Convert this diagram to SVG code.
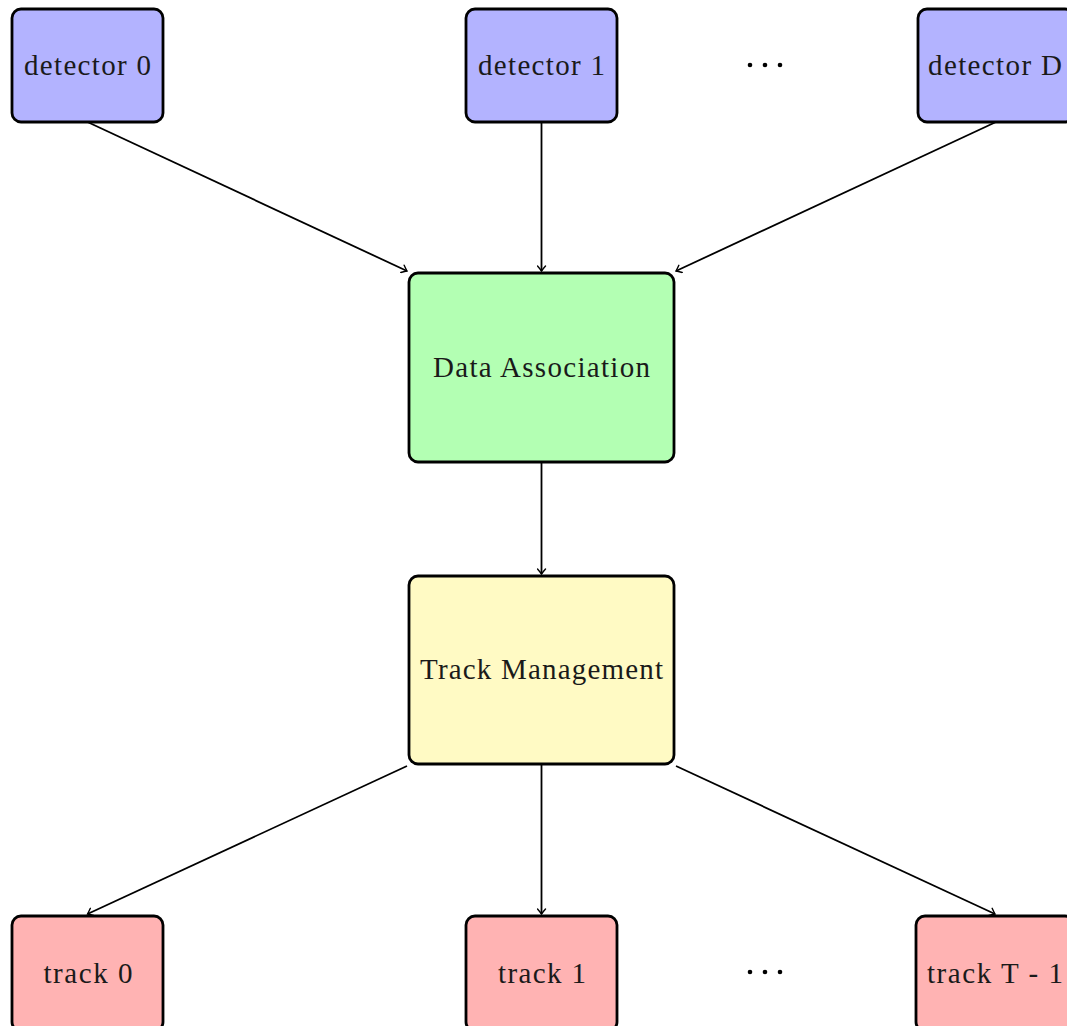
<svg xmlns="http://www.w3.org/2000/svg" width="1067" height="1026" viewBox="0 0 1067 1026">
<style>
.box{stroke:#000;stroke-width:2.8}
.det{fill:#B3B3FF}
.da{fill:#B3FFB3}
.tm{fill:#FFFAC4}
.trk{fill:#FFB3B3}
text{font-family:"Liberation Serif","Times New Roman",serif;font-size:29px;fill:#1a1a1a;text-anchor:middle}
.edge{stroke:#000;stroke-width:1.8;fill:none;marker-end:url(#arr)}
</style>
<defs>
<marker id="arr" viewBox="-6 -5 8 10" refX="0" refY="0" markerWidth="8" markerHeight="10" markerUnits="userSpaceOnUse" orient="auto">
<path d="M-5,-4 Q-1.5,-1 0,0 Q-1.5,1 -5,4" fill="none" stroke="#000" stroke-width="1.4" stroke-linecap="round"/>
</marker>
</defs>
<rect width="1067" height="1026" fill="#fff"/>
<g id="connectors">
<line class="edge" x1="87.5" y1="122" x2="407" y2="271"/>
<line class="edge" x1="541.5" y1="122" x2="541.5" y2="271"/>
<line class="edge" x1="996" y1="122" x2="676" y2="271"/>
<line class="edge" x1="541.5" y1="462" x2="541.5" y2="574"/>
<line class="edge" x1="407" y1="766" x2="87.5" y2="914"/>
<line class="edge" x1="541.5" y1="764" x2="541.5" y2="914"/>
<line class="edge" x1="676" y1="766" x2="995" y2="914"/>
</g>
<g id="detector0"><rect class="box det" x="12" y="9" width="151" height="113" rx="9"/><text x="87.5" y="75" textLength="127" lengthAdjust="spacing">detector 0</text></g>
<g id="detector1"><rect class="box det" x="466" y="9" width="151" height="113" rx="9"/><text x="541.5" y="75" textLength="127" lengthAdjust="spacing">detector 1</text></g>
<g id="dots-top"><circle cx="750" cy="65" r="2.3"/><circle cx="765" cy="65" r="2.3"/><circle cx="780" cy="65" r="2.3"/></g>
<g id="detectorD"><rect class="box det" x="918" y="9" width="156" height="113" rx="9"/><text x="995" y="75" textLength="134" lengthAdjust="spacing">detector D</text></g>
<g id="dataAssociation"><rect class="box da" x="409" y="273" width="265" height="189" rx="9"/><text x="541.5" y="377" textLength="217" lengthAdjust="spacing">Data Association</text></g>
<g id="trackManagement"><rect class="box tm" x="409" y="576" width="265" height="188" rx="9"/><text x="541.5" y="679" textLength="243" lengthAdjust="spacing">Track Management</text></g>
<g id="track0"><rect class="box trk" x="12" y="916" width="151" height="115" rx="9"/><text x="88" y="983" textLength="89" lengthAdjust="spacing">track 0</text></g>
<g id="track1"><rect class="box trk" x="466" y="916" width="151" height="115" rx="9"/><text x="542" y="983" textLength="88" lengthAdjust="spacing">track 1</text></g>
<g id="dots-bottom"><circle cx="750" cy="972" r="2.3"/><circle cx="765" cy="972" r="2.3"/><circle cx="780" cy="972" r="2.3"/></g>
<g id="trackT1"><rect class="box trk" x="916" y="916" width="158" height="115" rx="9"/><text x="995" y="983" textLength="136" lengthAdjust="spacing">track T - 1</text></g>
</svg>
